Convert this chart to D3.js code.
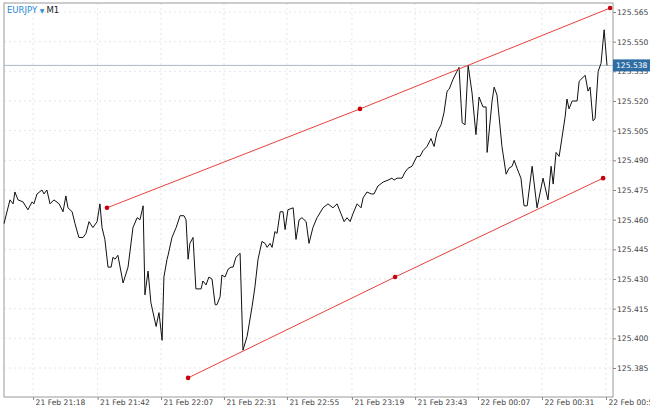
<!DOCTYPE html>
<html>
<head>
<meta charset="utf-8">
<script src="https://cdn.jsdelivr.net/npm/d3@7"></script>
<style>
  body { margin: 0; background: #fff; }
  text { font-family: "DejaVu Sans", sans-serif; }
</style>
</head>
<body>
<div id="chart"></div>
<script>
// Data: bar index (minutes from chart start) and close price
const barIndex = [0,2.3,3.5,4.2,5.4,7.3,9.2,10.8,11.5,12.7,14.6,15.4,16.5,17.7,19.2,21.2,22.7,23.8,24.6,26.2,27.3,28.8,30.4,31.5,32.7,34.2,35.8,36.9,37.7,38.8,40,41.2,41.9,42.7,43.8,45.8,47.7,49.6,51.2,52.3,53.5,54.2,55.4,56.5,58.5,59.6,60.8,61.5,62.7,63.1,64.6,66.2,67.7,69.2,70,70.8,71.5,72.7,73.8,75.8,76.5,77.7,78.8,80,81.2,81.9,83.1,83.8,85,86.2,87.3,88.1,89.2,90.8,91.9,93.5,95.4,96.5,97.7,99.2,100.4,101.2,102.3,103.1,104.2,105,106.2,107.3,108.1,109.2,111.2,112.3,113.5,114.6,116.2,117.3,118.8,120.4,122.7,124.6,126.5,128.1,129.6,130.8,131.9,133.1,134.2,135.8,137.3,138.1,139.6,141.2,142.3,143.8,145.8,147.7,149.2,150,151.2,153.1,154.2,155.4,156.9,158.8,160,161.2,162.7,164.2,165.4,166.5,168.1,169.2,170.4,171.2,172.7,174.2,175,176.2,177.3,178.5,180,181.5,182.7,184.2,185.4,185.8,187.7,188.5,189.6,191.5,193.1,194.2,195.4,196.2,197.3,198.8,200,201.2,203.1,205,207.3,209.2,210.4,211.2,212.3,213.5,215.8,216.5,217.3,218.5,220.4,221.2,223.5,224.6,225.4,226.5,227.3,228.5,229.6,230.8,231.9];
const closePrice = [125.458,125.470,125.468,125.474,125.470,125.469,125.465,125.469,125.468,125.473,125.475,125.473,125.475,125.468,125.470,125.468,125.464,125.472,125.466,125.464,125.458,125.451,125.451,125.453,125.459,125.456,125.459,125.468,125.456,125.450,125.436,125.436,125.441,125.440,125.442,125.428,125.436,125.456,125.461,125.460,125.467,125.422,125.434,125.418,125.406,125.413,125.399,125.431,125.440,125.442,125.451,125.456,125.462,125.462,125.460,125.440,125.448,125.451,125.425,125.425,125.429,125.427,125.431,125.430,125.417,125.417,125.421,125.432,125.431,125.435,125.436,125.436,125.441,125.443,125.394,125.401,125.416,125.426,125.440,125.449,125.448,125.446,125.448,125.446,125.454,125.453,125.464,125.464,125.455,125.465,125.466,125.450,125.460,125.461,125.459,125.448,125.456,125.461,125.466,125.468,125.466,125.468,125.463,125.459,125.461,125.459,125.463,125.468,125.466,125.471,125.474,125.473,125.473,125.477,125.479,125.480,125.481,125.480,125.481,125.481,125.484,125.486,125.487,125.492,125.492,125.495,125.497,125.501,125.497,125.504,125.508,125.514,125.525,125.526,125.531,125.535,125.537,125.509,125.508,125.538,125.524,125.503,125.522,125.517,125.517,125.494,125.520,125.527,125.523,125.497,125.483,125.486,125.487,125.490,125.486,125.481,125.467,125.467,125.487,125.466,125.481,125.470,125.487,125.478,125.494,125.492,125.512,125.521,125.516,125.520,125.520,125.530,125.533,125.525,125.527,125.510,125.511,125.535,125.539,125.556,125.538];

// Channel lines: [index, price] for start, middle and end anchors
const upperChannel = [[39.6, 125.466], [136.9, 125.516], [233.1, 125.567]];
const lowerChannel = [[70.8, 125.380], [150.4, 125.431], [230.4, 125.481]];

const priceTicks = [125.385,125.400,125.415,125.430,125.445,125.460,125.475,125.490,125.505,125.520,125.535,125.550,125.565];
const timeTickIndex = [11.2, 36, 60.4, 84.6, 108.8, 133.8, 158.1, 182.3, 206.9, 231.5];
const timeTickLabels = ["21 Feb 21:18","21 Feb 21:42","21 Feb 22:07","21 Feb 22:31","21 Feb 22:55","21 Feb 23:19","21 Feb 23:43","22 Feb 00:07","22 Feb 00:31","22 Feb 00:55"];
const lastPrice = 125.538;

// Dimensions
const dimensions = { width: 650, height: 407, left: 4, right: 613, top: 3, bottom: 397 };

const svg = d3.select("#chart").append("svg")
  .attr("width", dimensions.width)
  .attr("height", dimensions.height);

// Scales
const xScale = d3.scaleLinear().domain([0, 231.9]).range([4, 607]);
const yScale = d3.scaleLinear().domain([125.385, 125.565]).range([368, 12]);

const grid = svg.append("g").attr("stroke", "#e6e6e6").attr("stroke-dasharray", "2,3");
grid.selectAll(".h").data(priceTicks).join("line")
  .attr("x1", dimensions.left).attr("x2", dimensions.right)
  .attr("y1", d => yScale(d)).attr("y2", d => yScale(d));
grid.selectAll(".v").data(timeTickIndex).join("line")
  .attr("x1", d => xScale(d)).attr("x2", d => xScale(d))
  .attr("y1", dimensions.top).attr("y2", dimensions.bottom);

// Frame
svg.append("rect")
  .attr("x", dimensions.left).attr("y", dimensions.top)
  .attr("width", dimensions.right - dimensions.left)
  .attr("height", dimensions.bottom - dimensions.top)
  .attr("fill", "none").attr("stroke", "#9a9a9a");

// Axes
const yAxis = d3.axisRight(yScale).tickValues(priceTicks).tickFormat(d3.format(".3f")).tickSize(3);
const yAxisG = svg.append("g").attr("transform", `translate(${dimensions.right},0)`).call(yAxis);
yAxisG.select(".domain").remove();
yAxisG.selectAll("line").attr("stroke", "#888");
yAxisG.selectAll("text").attr("font-size", 7.6).attr("fill", "#444").attr("x", 4);

const xAxis = d3.axisBottom(xScale).tickValues(timeTickIndex).tickFormat((d, i) => timeTickLabels[i]).tickSize(3);
const xAxisG = svg.append("g").attr("transform", `translate(0,${dimensions.bottom})`).call(xAxis);
xAxisG.select(".domain").remove();
xAxisG.selectAll("line").attr("stroke", "#888");
xAxisG.selectAll("text").attr("font-size", 7.6).attr("fill", "#444")
  .attr("text-anchor", "start").attr("x", 2).attr("y", 3);

// Last price line
svg.append("line")
  .attr("x1", dimensions.left).attr("x2", dimensions.right)
  .attr("y1", yScale(lastPrice)).attr("y2", yScale(lastPrice))
  .attr("stroke", "#a9b9c9");

// Price line
const line = d3.line().x((d, i) => xScale(barIndex[i])).y(d => yScale(d));
svg.append("path").datum(closePrice)
  .attr("d", line).attr("fill", "none").attr("stroke", "#111").attr("stroke-width", 1);

// Channel
const channelLine = d3.line().x(d => xScale(d[0])).y(d => yScale(d[1]));
[upperChannel, lowerChannel].forEach(ch => {
  svg.append("path").datum(ch).attr("d", channelLine)
    .attr("fill", "none").attr("stroke", "#e8413c").attr("stroke-width", 1);
  svg.append("g").selectAll("circle").data(ch).join("circle")
    .attr("cx", d => xScale(d[0])).attr("cy", d => yScale(d[1]))
    .attr("r", 2.3).attr("fill", "#c8000a");
});

// Last price label
const lp = svg.append("g").attr("transform", `translate(${dimensions.right},${yScale(lastPrice)})`);
lp.append("rect").attr("x", 0).attr("y", -6).attr("width", 37).attr("height", 12).attr("fill", "#2d6da3");
lp.append("text").attr("x", 3).attr("y", 3).attr("font-size", 7.6).attr("fill", "#fff").text(lastPrice.toFixed(3));

// Title
const title = svg.append("text").attr("x", 7).attr("y", 13).attr("font-size", 8.5);
title.append("tspan").attr("fill", "#2a8ad8").text("EURJPY ");
title.append("tspan").attr("fill", "#2a8ad8").attr("font-size", 6).text("▼ ");
title.append("tspan").attr("fill", "#222").text("M1");
</script>
</body>
</html>
